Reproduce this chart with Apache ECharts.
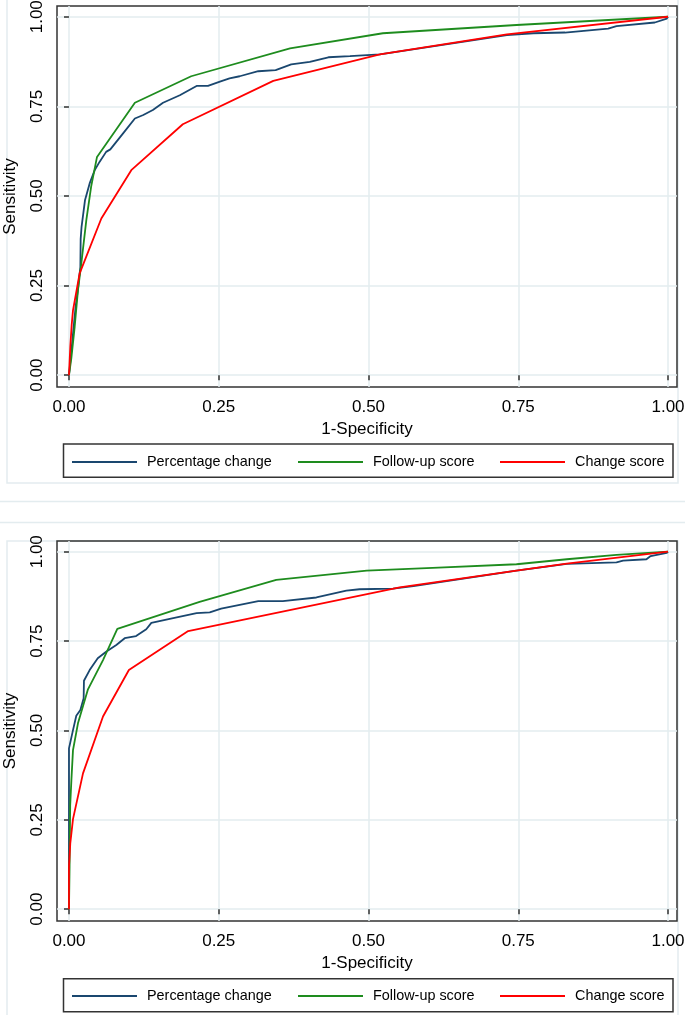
<!DOCTYPE html>
<html><head><meta charset="utf-8">
<script src="https://cdn.jsdelivr.net/npm/echarts@6/dist/echarts.min.js"></script>
<style>html,body{margin:0;padding:0;background:#fff}#c{width:685px;height:1015px}</style>
</head><body><div id="c"></div>
<script>
const tickValues = [0, 0.25, 0.5, 0.75, 1];
const seriesNames = ['Percentage change', 'Follow-up score', 'Change score'];
const xTitle = '1-Specificity';
const yTitle = 'Sensitivity';

// Top panel ROC curves [1-specificity, sensitivity]
const topPercentage = [[0,0],[0.003,0.05],[0.007,0.12],[0.011,0.19],[0.015,0.24],[0.017,0.274],[0.019,0.30],[0.0195,0.38],[0.021,0.414],[0.0267,0.488],[0.0345,0.535],[0.043,0.572],[0.051,0.595],[0.062,0.623],[0.069,0.630],[0.090,0.674],[0.110,0.716],[0.124,0.726],[0.140,0.740],[0.157,0.760],[0.185,0.781],[0.213,0.807],[0.232,0.807],[0.252,0.819],[0.268,0.828],[0.285,0.834],[0.316,0.848],[0.345,0.851],[0.371,0.867],[0.402,0.874],[0.433,0.887],[0.469,0.890],[0.519,0.895],[0.731,0.949],[0.775,0.954],[0.828,0.956],[0.900,0.967],[0.914,0.974],[0.978,0.984],[0.998,0.995],[1,1]];
const topFollowUp = [[0,0],[0.0039,0.047],[0.0095,0.135],[0.015,0.237],[0.0206,0.312],[0.029,0.433],[0.037,0.526],[0.0468,0.609],[0.110,0.760],[0.204,0.834],[0.369,0.912],[0.524,0.954],[0.747,0.977],[1,1]];
const topChange = [[0,0],[0.0022,0.08],[0.0045,0.14],[0.0067,0.181],[0.0178,0.284],[0.054,0.437],[0.104,0.572],[0.190,0.700],[0.341,0.821],[0.519,0.895],[0.731,0.951],[1,1]];

// Bottom panel ROC curves
const bottomPercentage = [[0,0],[0,0.45],[0.0067,0.501],[0.0122,0.541],[0.019,0.557],[0.0245,0.590],[0.025,0.639],[0.0345,0.669],[0.048,0.702],[0.062,0.720],[0.079,0.739],[0.093,0.758],[0.112,0.764],[0.129,0.783],[0.1375,0.801],[0.174,0.814],[0.213,0.828],[0.235,0.8305],[0.254,0.841],[0.316,0.862],[0.357,0.862],[0.413,0.872],[0.463,0.891],[0.485,0.895],[0.541,0.897],[0.575,0.904],[0.747,0.947],[0.831,0.966],[0.914,0.970],[0.925,0.975],[0.964,0.979],[0.971,0.988],[0.998,0.997],[1,1]];
const bottomFollowUp = [[0,0],[0.001,0.12],[0.002,0.29],[0.004,0.36],[0.0067,0.445],[0.015,0.520],[0.0317,0.615],[0.0568,0.697],[0.0807,0.784],[0.218,0.860],[0.346,0.921],[0.497,0.947],[0.607,0.955],[0.747,0.965],[0.831,0.979],[0.914,0.991],[1,1]];
const bottomChange = [[0,0],[0,0.119],[0.0022,0.185],[0.0067,0.252],[0.0234,0.380],[0.0568,0.539],[0.100,0.669],[0.199,0.778],[0.552,0.900],[0.747,0.947],[0.831,0.967],[1,1]];

const colors = ['#1a476f', '#1e8c1e', '#ff0000'];
const FONT = '"Liberation Sans", Arial, sans-serif';
const GRIDC = '#e3ecef';
const FRAMEC = '#333333';

function xAx(gi) {
  return {
    type: 'value', gridIndex: gi, min: -0.02, max: 1.015,
    axisLine: { show: false },
    axisTick: { show: true, customValues: tickValues, length: 5, lineStyle: { color: FRAMEC, width: 1.5 } },
    axisLabel: { customValues: tickValues, formatter: v => v.toFixed(2), fontSize: 17, fontFamily: FONT, color: '#000', margin: 12 },
    splitLine: { show: true, lineStyle: { color: GRIDC, width: 1.5 } },
    name: xTitle, nameLocation: 'middle', nameGap: 34,
    nameTextStyle: { fontSize: 17, fontFamily: FONT, color: '#000' }
  };
}
function yAx(gi) {
  return {
    type: 'value', gridIndex: gi, min: -0.033, max: 1.03,
    axisLine: { show: false },
    axisTick: { show: true, customValues: tickValues, length: 5, lineStyle: { color: FRAMEC, width: 1.5 } },
    axisLabel: { customValues: tickValues, formatter: v => v.toFixed(2), fontSize: 17, fontFamily: FONT, color: '#000', margin: 11, rotate: 90 },
    splitLine: { show: true, lineStyle: { color: GRIDC, width: 1.5 } },
    name: yTitle, nameLocation: 'middle', nameGap: 38,
    nameTextStyle: { fontSize: 17, fontFamily: FONT, color: '#000' }
  };
}
function ser(name, data, gi, ci) {
  return { type: 'line', name: name, xAxisIndex: gi, yAxisIndex: gi, data: data,
    symbol: 'none', showSymbol: false, lineStyle: { width: 1.8, color: colors[ci] }, itemStyle: { color: colors[ci] }, z: 2 + ci };
}
function leg(name, left, top) {
  return { data: [name], left: left, top: top, icon: 'rect', itemWidth: 65, itemHeight: 2, padding: 0, selectedMode: false,
    formatter: n => '{t|' + n + '}',
    textStyle: { fontSize: 14.4, fontFamily: FONT, color: '#000', rich: { t: { fontSize: 14.4, fontFamily: FONT, color: '#000', padding: [0, 0, 0, 5] } } } };
}

const chart = echarts.init(document.getElementById('c'));
chart.setOption({
  animation: false,
  backgroundColor: '#fff',
  grid: [
    { left: 57, top: 6, width: 620, height: 381, show: true, borderColor: FRAMEC, borderWidth: 1.5, containLabel: false, outerBoundsMode: 'none' },
    { left: 57, top: 541, width: 620, height: 380, show: true, borderColor: FRAMEC, borderWidth: 1.5, containLabel: false, outerBoundsMode: 'none' }
  ],
  xAxis: [xAx(0), xAx(1)],
  yAxis: [yAx(0), yAx(1)],
  legend: [
    leg(seriesNames[0], 72, 455), leg(seriesNames[1], 298, 455), leg(seriesNames[2], 500, 455),
    leg(seriesNames[0], 72, 989), leg(seriesNames[1], 298, 989), leg(seriesNames[2], 500, 989)
  ],
  series: [
    ser(seriesNames[0], topPercentage, 0, 0), ser(seriesNames[1], topFollowUp, 0, 1), ser(seriesNames[2], topChange, 0, 2),
    ser(seriesNames[0], bottomPercentage, 1, 0), ser(seriesNames[1], bottomFollowUp, 1, 1), ser(seriesNames[2], bottomChange, 1, 2)
  ],
  graphic: [
    { type: 'rect', silent: true, z: -10, shape: { x: 7, y: -2, width: 671, height: 485 }, style: { fill: 'none', stroke: GRIDC, lineWidth: 1.5 } },
    { type: 'line', silent: true, z: -10, shape: { x1: 0, y1: 501.5, x2: 685, y2: 501.5 }, style: { stroke: GRIDC, lineWidth: 1.5 } },
    { type: 'line', silent: true, z: -10, shape: { x1: 0, y1: 522.5, x2: 685, y2: 522.5 }, style: { stroke: GRIDC, lineWidth: 1.5 } },
    { type: 'rect', silent: true, z: -10, shape: { x: 7, y: 541, width: 671, height: 480 }, style: { fill: 'none', stroke: GRIDC, lineWidth: 1.5 } },
    { type: 'rect', silent: true, shape: { x: 63.5, y: 444, width: 609.5, height: 33.3 }, style: { fill: 'none', stroke: FRAMEC, lineWidth: 1.5 } },
    { type: 'rect', silent: true, shape: { x: 63.5, y: 978.7, width: 609.5, height: 33 }, style: { fill: 'none', stroke: FRAMEC, lineWidth: 1.5 } }
  ]
});
</script></body></html>
